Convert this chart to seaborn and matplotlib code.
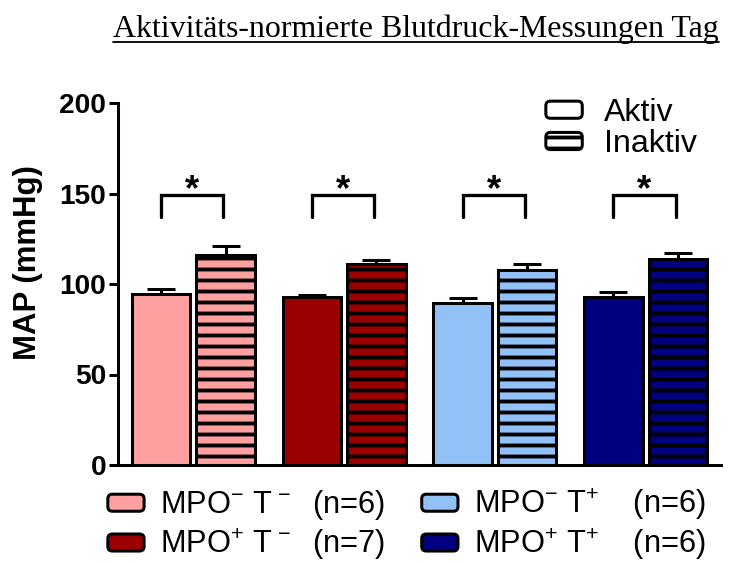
import numpy as np
import pandas as pd
import matplotlib
matplotlib.use("Agg")
import matplotlib.pyplot as plt
import seaborn as sns
from matplotlib.patches import Patch, FancyBboxPatch
from matplotlib.legend_handler import HandlerPatch
from matplotlib.lines import Line2D

# ---------------- data ----------------
groups = ["MPO- T-", "MPO+ T-", "MPO- T+", "MPO+ T+"]
states = ["Aktiv", "Inaktiv"]
aktiv = [94.3, 92.6, 89.3, 93.0]
aktiv_err = [2.8, 1.4, 3.1, 2.4]
inaktiv = [116.0, 110.9, 107.7, 113.8]
inaktiv_err = [5.0, 2.4, 3.2, 3.5]
group_colors = ["#FFA0A0", "#9B0000", "#92C1F8", "#000080"]
group_labels = [r"MPO$^{-}$ T$^{\,-}$  (n=6)", r"MPO$^{+}$ T$^{\,-}$  (n=7)",
                r"MPO$^{-}$ T$^{+}$    (n=6)", r"MPO$^{+}$ T$^{+}$    (n=6)"]
yticks = [0, 50, 100, 150, 200]
sig_marks = ["*", "*", "*", "*"]
title = "Aktivitäts-normierte Blutdruck-Messungen Tag"
ylabel = "MAP (mmHg)"

DPI = 66
W, H = 729, 563

sns.set_style("ticks")
plt.rcParams["font.family"] = ["Liberation Sans", "DejaVu Sans"]
plt.rcParams["mathtext.fontset"] = "custom"
plt.rcParams["mathtext.rm"] = "Liberation Sans"
plt.rcParams["mathtext.it"] = "Liberation Sans:italic"
plt.rcParams["mathtext.bf"] = "Liberation Sans:bold"
plt.rcParams["hatch.linewidth"] = 4.2
for key in ["text.color", "axes.labelcolor", "xtick.color", "ytick.color",
            "axes.edgecolor"]:
    plt.rcParams[key] = "black"

df = pd.DataFrame({
    "group": groups * 2,
    "state": [states[0]] * len(groups) + [states[1]] * len(groups),
    "MAP": aktiv + inaktiv,
})

fig = plt.figure(figsize=(W / DPI, H / DPI), dpi=DPI)
ax = fig.add_axes([118 / W, (H - 465) / H, (721 - 118) / W, (465 - 103) / H])

sns.barplot(data=df, x="group", y="MAP", hue="state", order=groups,
            hue_order=states, width=0.857, gap=0.092, errorbar=None,
            legend=False, ax=ax, edgecolor="black", linewidth=3.3,
            palette=["white", "white"])

bars = sorted(ax.patches, key=lambda p: p.get_x())
errs = []
for i, p in enumerate(bars):
    g, s = divmod(i, 2)
    p.set_facecolor(group_colors[g])
    p.set_edgecolor("black")
    p.set_linewidth(3.3)
    if s == 1:
        p.set_hatch("-")
    errs.append(inaktiv_err[g] if s else aktiv_err[g])

xs = np.array([p.get_x() + p.get_width() / 2 for p in bars])
hs = np.array([p.get_height() for p in bars])
ax.errorbar(xs, hs, yerr=[np.zeros(len(hs)), errs], fmt="none",
            ecolor="black", elinewidth=3.3, capsize=15.5, capthick=3.3,
            zorder=0.5)

# significance brackets
y_top, y_bot, y_star = 149.2, 137.2, 151.5
for g in range(len(groups)):
    x1, x2 = xs[2 * g], xs[2 * g + 1] - 0.015
    ax.plot([x1, x1, x2, x2], [y_bot, y_top, y_top, y_bot], color="black",
            lw=3.6, solid_joinstyle="miter", clip_on=False)
    ax.text((x1 + x2) / 2, y_star, sig_marks[g], ha="center", va="center",
            fontsize=40, fontweight="bold")

ax.set_xlim(-0.5, 3.5)
ax.set_ylim(0, 200)
ax.set_yticks(yticks)
ax.set_yticklabels([str(t) for t in yticks], fontsize=30.5, fontweight="bold")
ax.tick_params(axis="y", length=10, width=3.3, pad=3, color="black")
ax.tick_params(axis="x", length=0, labelbottom=False)
ax.set_xlabel("")
ax.set_ylabel(ylabel, fontsize=34, fontweight="bold")
ax.yaxis.set_label_coords(-0.124, 0.56)
for side in ["top", "right"]:
    ax.spines[side].set_visible(False)
for side in ["left", "bottom"]:
    ax.spines[side].set_linewidth(3.3)
    ax.spines[side].set_color("black")


class RoundHandler(HandlerPatch):
    def create_artists(self, legend, orig_handle, xdescent, ydescent,
                       width, height, fontsize, trans):
        pad = 2
        p = FancyBboxPatch((-xdescent + pad, -ydescent + pad),
                           width - 2 * pad, height - 2 * pad,
                           boxstyle="round,pad=0,rounding_size=5",
                           facecolor=orig_handle.get_facecolor(),
                           edgecolor="black", linewidth=3.3,
                           hatch=orig_handle.get_hatch(), transform=trans)
        return [p]


state_handles = [Patch(facecolor="white", edgecolor="black"),
                 Patch(facecolor="white", edgecolor="black", hatch="-")]
fig.legend(state_handles, states, loc="upper left",
           bbox_to_anchor=(544 / W, 1 - 98 / H), frameon=False,
           fontsize=35, handlelength=1.25, handleheight=0.62,
           handletextpad=0.62, labelspacing=0.04, borderpad=0,
           borderaxespad=0, handler_map={Patch: RoundHandler()})

group_handles = [Patch(facecolor=c, edgecolor="black") for c in group_colors]
fig.legend(group_handles, group_labels, loc="upper left",
           bbox_to_anchor=(106 / W, 1 - 487 / H), ncol=2, frameon=False,
           fontsize=33.5, handlelength=1.3, handleheight=0.66,
           handletextpad=0.45, labelspacing=0.14, columnspacing=1.15,
           borderpad=0, borderaxespad=0, handler_map={Patch: RoundHandler()})

t = fig.text(416 / W, 1 - 37 / H, title, ha="center", va="baseline",
             fontsize=34.8, family=["Liberation Serif", "DejaVu Serif"])
fig.canvas.draw()
bb = t.get_window_extent()
fig.add_artist(Line2D([bb.x0 / W, bb.x1 / W], [1 - 41.5 / H, 1 - 41.5 / H],
                      transform=fig.transFigure, color="black", lw=2.0))

fig.savefig("out.png", dpi=DPI)
